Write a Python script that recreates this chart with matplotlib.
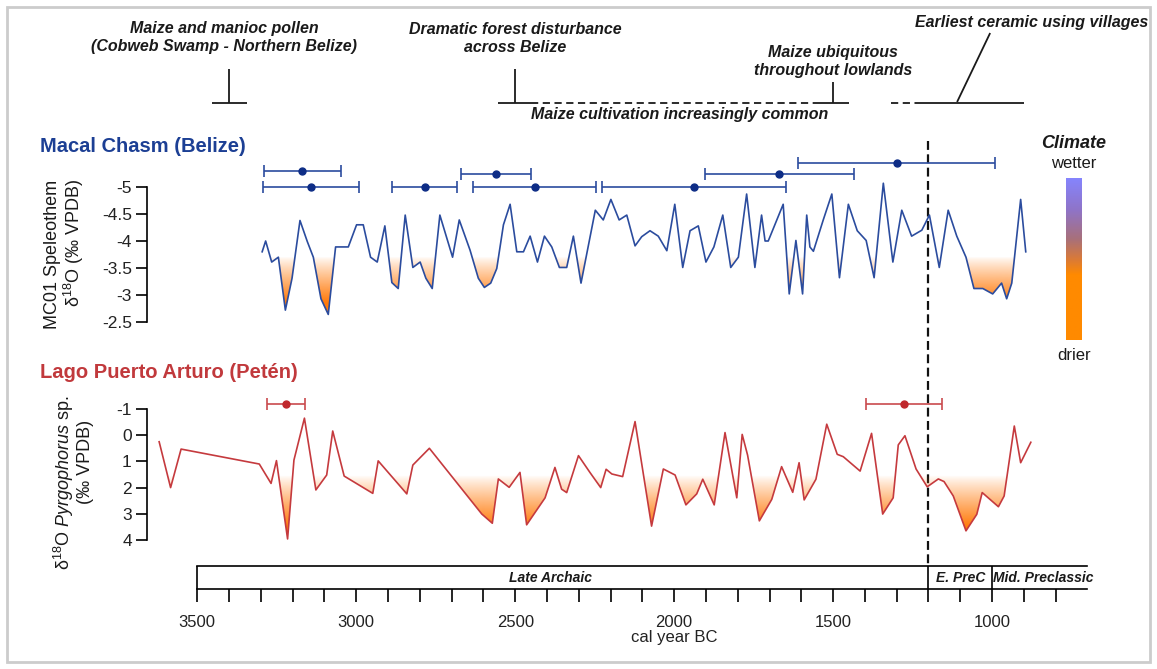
import numpy as np
import matplotlib
matplotlib.use('Agg')
import matplotlib.pyplot as plt
from matplotlib.path import Path
from matplotlib.colors import LinearSegmentedColormap, to_rgb

plt.rcParams['font.family'] = ['Liberation Sans', 'DejaVu Sans']
plt.rcParams['mathtext.fontset'] = 'custom'
plt.rcParams['mathtext.rm'] = 'Liberation Sans'
plt.rcParams['mathtext.it'] = 'Liberation Sans:italic'
plt.rcParams['mathtext.bf'] = 'Liberation Sans:bold'

# --- Macal Chasm MC01 speleothem (cal yr BC, d18O permil VPDB) ---
mc_age = [3296, 3285, 3266, 3245, 3223, 3202, 3177, 3154, 3135, 3111,
          3088, 3065, 3025, 2999, 2978, 2955, 2934, 2910, 2888, 2868,
          2846, 2822, 2799, 2781, 2761, 2737, 2697, 2676, 2642, 2616,
          2597, 2577, 2558, 2537, 2516, 2495, 2474, 2453, 2430, 2408,
          2385, 2361, 2338, 2317, 2293, 2248, 2223, 2199, 2173, 2149,
          2123, 2102, 2076, 2050, 2023, 1998, 1973, 1950, 1924, 1900,
          1875, 1847, 1822, 1798, 1772, 1746, 1725, 1714, 1704, 1657,
          1638, 1617, 1596, 1583, 1573, 1562, 1531, 1504, 1480, 1452,
          1424, 1396, 1371, 1342, 1312, 1284, 1253, 1221, 1197, 1166,
          1138, 1111, 1082, 1057, 1029, 998, 970, 954, 938, 910, 894]
mc_d18o = [-3.80, -4.00, -3.61, -3.70, -2.72, -3.31, -4.38, -3.99, -3.70, -2.93,
           -2.64, -3.89, -3.89, -4.30, -4.30, -3.70, -3.61, -4.28, -3.23, -3.12,
           -4.48, -3.51, -3.61, -3.31, -3.12, -4.48, -3.70, -4.39, -3.83, -3.31,
           -3.14, -3.22, -3.49, -4.30, -4.68, -3.80, -3.80, -4.09, -3.61, -4.09,
           -3.89, -3.51, -3.51, -4.09, -3.22, -4.57, -4.39, -4.77, -4.39, -4.48,
           -3.91, -4.08, -4.19, -4.09, -3.82, -4.68, -3.51, -4.19, -4.28, -3.61,
           -3.89, -4.48, -3.51, -3.70, -4.87, -3.51, -4.48, -4.00, -4.00, -4.68,
           -3.02, -4.01, -3.02, -4.48, -3.89, -3.81, -4.39, -4.87, -3.32, -4.68,
           -4.19, -4.01, -3.32, -5.07, -3.61, -4.57, -4.09, -4.20, -4.48, -3.51,
           -4.57, -4.09, -3.70, -3.12, -3.12, -3.02, -3.22, -2.93, -3.22, -4.77, -3.80]

# U-Th dates on MC01 (age, older limit, younger limit, plotting row)
mc_date_age = [3172, 3143, 2784, 2561, 2438, 1937, 1669, 1299]
mc_date_old = [3296, 3296, 2885, 2671, 2630, 2226, 1905, 1607]
mc_date_young = [3053, 2993, 2681, 2451, 2244, 1648, 1436, 988]
mc_date_row = [-5.30, -5.0, -5.0, -5.24, -5.0, -5.0, -5.24, -5.44]

# --- Lago Puerto Arturo, Pyrgophorus sp. d18O ---
lpa_age = [3620, 3584, 3551, 3305, 3268, 3251, 3216, 3196, 3163, 3127,
           3093, 3074, 3038, 2948, 2931, 2841, 2822, 2770, 2605, 2572,
           2553, 2519, 2485, 2464, 2406, 2375, 2354, 2338, 2301, 2265,
           2231, 2214, 2196, 2162, 2123, 2071, 2034, 1997, 1963, 1929,
           1910, 1874, 1840, 1803, 1786, 1769, 1732, 1693, 1662, 1627,
           1607, 1591, 1554, 1520, 1487, 1468, 1415, 1379, 1344, 1311,
           1295, 1274, 1239, 1204, 1169, 1151, 1122, 1082, 1048, 1031,
           980, 962, 930, 910, 878]
lpa_d18o = [0.25, 2.00, 0.53, 1.10, 1.84, 0.97, 3.96, 0.95, -0.65, 2.09,
            1.52, -0.16, 1.56, 2.22, 0.98, 2.24, 1.14, 0.50, 3.01, 3.36,
            1.67, 1.99, 1.42, 3.42, 2.39, 1.23, 2.06, 2.19, 0.78, 1.42,
            2.00, 1.30, 1.48, 1.58, -0.52, 3.47, 1.29, 1.52, 2.66, 2.24,
            1.68, 2.66, -0.10, 2.39, -0.03, 0.76, 3.27, 2.45, 1.20, 2.18,
            1.05, 2.47, 1.68, -0.42, 0.73, 0.82, 1.37, -0.07, 3.01, 2.39,
            0.37, 0.02, 1.29, 1.97, 1.67, 1.77, 2.32, 3.65, 3.02, 2.19,
            2.73, 2.32, -0.35, 1.05, 0.27]

lpa_date_age = [3221, 1276]
lpa_date_old = [3281, 1396]
lpa_date_young = [3161, 1157]
lpa_date_row = [-1.18, -1.20]

# cultural periods
periods = ['Late Archaic', 'E. PreC', 'Mid. Preclassic']
period_start = [3500, 1200, 1000]
period_end = [1200, 1000, 700]
period_label_at = [2390, 1100, 838]

major_years = [3500, 3000, 2500, 2000, 1500, 1000]
minor_years = list(range(3500, 799, -100))

BLUE = '#2b4c9e'
BLUE_DOT = '#0e2d86'
RED = '#c53a3e'
RED_DOT = '#c0282d'
ORANGE = '#ff7a0a'
INK = '#1a1a1a'

W, H = 1157, 669
X3500 = 197.3        # pixel of 3500 BC
PX_PER_YR = 0.3179
XL, XR = 3658, 690   # x limits of the data axes


def px(year):
    return X3500 + (3500 - year) * PX_PER_YR


def year_at(p):
    return 3500 - (p - X3500) / PX_PER_YR


def box(top_px, bottom_px):
    l, r = px(XL), px(XR)
    return [l / W, 1 - bottom_px / H, (r - l) / W, (bottom_px - top_px) / H]


def dry_shade(ax, x, y, thresh, full):
    # orange gradient under the curve where it is drier than thresh
    x = np.asarray(x, float)
    y = np.asarray(y, float)
    coll = ax.fill_between(x, y, thresh, where=y > thresh, interpolate=True,
                           facecolor='none', edgecolor='none')
    paths = coll.get_paths()
    if not paths:
        return
    clip = Path.make_compound_path(*paths)
    n = 256
    levels = np.linspace(thresh, y.max(), n)
    img = np.zeros((n, 1, 4))
    img[:, 0, :3] = to_rgb(ORANGE)
    img[:, 0, 3] = np.clip((levels - thresh) / (full - thresh), 0, 1) ** 0.9
    im = ax.imshow(img, extent=[x.min(), x.max(), thresh, y.max()],
                   origin='lower', aspect='auto', interpolation='bilinear', zorder=1)
    im.set_clip_path(clip, transform=ax.transData)


def style_yaxis(ax, lo, hi, ticks, labels):
    for s in ['top', 'right', 'bottom']:
        ax.spines[s].set_visible(False)
    ax.spines['left'].set_bounds(lo, hi)
    ax.spines['left'].set_linewidth(1.2)
    ax.set_yticks(ticks)
    ax.set_yticklabels(labels)
    ax.set_xticks([])
    ax.tick_params(axis='y', direction='out', length=8, width=1.2,
                   labelsize=12.5, labelcolor='#222222', pad=3)


fig = plt.figure(figsize=(W / 100, H / 100), dpi=100)

# overlay in (year, pixel) coordinates for annotations
ov = fig.add_axes([0, 0, 1, 1])
ov.set_xlim(year_at(0), year_at(W))
ov.set_ylim(H, 0)
ov.axis('off')

# frame around the figure
fig.patches.append(plt.Rectangle((7 / W, 1 - 662 / H), 1143 / W, 655 / H,
                                 transform=fig.transFigure, fill=False,
                                 edgecolor='#cccccc', linewidth=2))

# --- events at the top ---
ann = dict(ha='center', va='center', fontsize=11.5, fontweight='bold',
           fontstyle='italic', color=INK, linespacing=1.25)
ov.text(3416, 38, 'Maize and manioc pollen\n(Cobweb Swamp - Northern Belize)', **ann)
ov.text(2500, 38, 'Dramatic forest disturbance\nacross Belize', **ann)
ov.text(1500, 62, 'Maize ubiquitous\nthroughout lowlands', **ann)
ov.text(877, 23, 'Earliest ceramic using villages', **ann)
ov.text(1982, 115, 'Maize cultivation increasingly common', **ann)

lk = dict(color=INK, linewidth=1.3, solid_capstyle='butt')
ov.plot([3400, 3400], [69, 103], **lk)
ov.plot([3455, 3345], [103, 103], **lk)
ov.plot([2500, 2500], [69, 103], **lk)
ov.plot([2555, 2450], [103, 103], **lk)
ov.plot([2450, 1555], [103, 103], dashes=(4, 2.5), **lk)
ov.plot([1500, 1500], [82, 103], **lk)
ov.plot([1555, 1450], [103, 103], **lk)
ov.plot([1318, 1236], [103, 103], dashes=(4, 2.5), **lk)
ov.plot([1236, 900], [103, 103], **lk)
ov.plot([1110, 1006], [102, 33], **lk)

# dashed line at 1200 BC
ov.plot([1200, 1200], [141, 566], color='#111111', linewidth=1.6, dashes=(4, 2))

# --- Macal Chasm panel ---
up_lo, up_hi = -2.35, -5.7
ax1 = fig.add_axes(box(187 + (up_hi + 5) * 54, 187 + (up_lo + 5) * 54))
ax1.patch.set_alpha(0)
dry_shade(ax1, mc_age, mc_d18o, -3.7, -2.85)
ax1.plot(mc_age, mc_d18o, color=BLUE, linewidth=1.2, zorder=2)
ax1.errorbar(mc_date_age, mc_date_row,
             xerr=[np.subtract(mc_date_old, mc_date_age), np.subtract(mc_date_age, mc_date_young)],
             fmt='o', color=BLUE, mfc=BLUE_DOT, mec=BLUE_DOT, markersize=5,
             elinewidth=1.2, capsize=4.5, capthick=1.2, zorder=3)
ax1.set_xlim(XL, XR)
ax1.set_ylim(up_lo, up_hi)
style_yaxis(ax1, -5, -2.5, [-5, -4.5, -4, -3.5, -3, -2.5],
            ['-5', '-4.5', '-4', '-3.5', '-3', '-2.5'])

# --- Lago Puerto Arturo panel ---
lo_lo, lo_hi = 4.3, -1.6
ax2 = fig.add_axes(box(409 + (lo_hi + 1) * 26.2, 409 + (lo_lo + 1) * 26.2))
ax2.patch.set_alpha(0)
dry_shade(ax2, lpa_age, lpa_d18o, 1.55, 3.5)
ax2.plot(lpa_age, lpa_d18o, color=RED, linewidth=1.2, zorder=2)
ax2.errorbar(lpa_date_age, lpa_date_row,
             xerr=[np.subtract(lpa_date_old, lpa_date_age), np.subtract(lpa_date_age, lpa_date_young)],
             fmt='o', color='#c94a4e', mfc=RED_DOT, mec=RED_DOT, markersize=5,
             elinewidth=1.2, capsize=4.5, capthick=1.2, zorder=3)
ax2.set_xlim(XL, XR)
ax2.set_ylim(lo_lo, lo_hi)
style_yaxis(ax2, -1, 4, [-1, 0, 1, 2, 3, 4], ['-1', '0', '1', '2', '3', '4'])

# panel titles and axis labels
fig.text(40 / W, 1 - 146 / H, 'Macal Chasm (Belize)', fontsize=14.5,
         fontweight='bold', color='#1c3f94', va='center')
fig.text(40 / W, 1 - 372 / H, 'Lago Puerto Arturo (Petén)', fontsize=14.5,
         fontweight='bold', color='#c1393c', va='center')
lab = dict(rotation=90, ha='center', va='center', fontsize=13, color=INK)
fig.text(53 / W, 1 - 254 / H, 'MC01 Speleothem', **lab)
fig.text(74 / W, 1 - 243 / H, 'δ$^{18}$O (‰ VPDB)', **lab)
fig.text(64 / W, 1 - 482 / H, r'δ$^{18}$O $\mathit{Pyrgophorus}$ sp.', **lab)
fig.text(86 / W, 1 - 462 / H, '(‰ VPDB)', **lab)

# --- cultural period bar with the time axis ---
ax3 = fig.add_axes(box(566, 589))
ax3.patch.set_alpha(0)
ax3.set_xlim(XL, XR)
ax3.set_ylim(0, 1)
for s in ['left', 'right']:
    ax3.spines[s].set_visible(False)
for s in ['top', 'bottom']:
    ax3.spines[s].set_bounds(period_start[0], period_end[-1])
    ax3.spines[s].set_linewidth(1.2)
ax3.vlines(period_start, 0, 1, color='black', linewidth=1.2)
for name, xm in zip(periods, period_label_at):
    ax3.text(xm, 0.5, name, ha='center', va='center', fontsize=10,
             fontweight='bold', fontstyle='italic', color=INK)
ax3.set_yticks([])
ax3.set_xticks(major_years)
ax3.set_xticklabels([str(y) for y in major_years])
ax3.set_xticks(minor_years, minor=True)
ax3.tick_params(axis='x', which='both', direction='out', length=9.5, width=1.2)
ax3.tick_params(axis='x', which='major', labelsize=12, labelcolor='#222222', pad=9)
ax3.set_xlabel('cal year BC', fontsize=12, color='#222222', labelpad=2)
ax3.xaxis.set_label_coords((XL - 2000) / (XL - XR), -1.78)

# --- climate colour key ---
climate = LinearSegmentedColormap.from_list(
    'climate', [(0, '#8585ff'), (0.2, '#8f74c8'), (0.38, '#a8707a'),
                (0.5, '#d87a3a'), (0.6, '#ff8a00'), (1, '#ff8a00')])
cax = fig.add_axes([1066 / W, 1 - 340 / H, 16 / W, 162 / H])
cax.imshow(np.linspace(0, 1, 256)[:, None], cmap=climate, aspect='auto')
cax.axis('off')
fig.text(1074 / W, 1 - 143 / H, 'Climate', ha='center', va='center', fontsize=13,
         fontweight='bold', fontstyle='italic', color=INK)
fig.text(1074 / W, 1 - 163 / H, 'wetter', ha='center', va='center', fontsize=12, color=INK)
fig.text(1074 / W, 1 - 356 / H, 'drier', ha='center', va='center', fontsize=12, color=INK)

fig.savefig('out.png', dpi=100)
